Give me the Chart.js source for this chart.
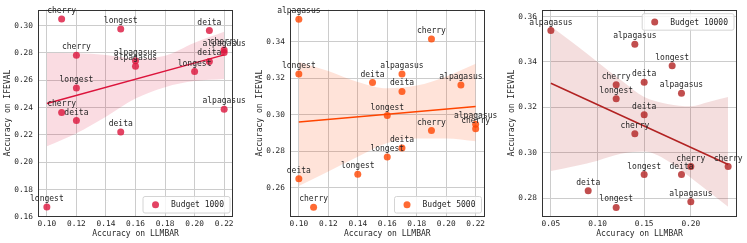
<!DOCTYPE html>
<html>
<head>
<meta charset="utf-8">
<script src="https://cdn.jsdelivr.net/npm/chart.js@4.4.0/dist/chart.umd.min.js"></script>
<style>
  html, body { margin: 0; padding: 0; background: #fff; }
  #wrap { position: relative; width: 747px; height: 243px; }
  #wrap canvas { position: absolute; left: 0; top: 0; }
</style>
</head>
<body>
<div id="wrap">
  <canvas id="c1" width="747" height="243"></canvas>
  <canvas id="c2" width="747" height="243"></canvas>
  <canvas id="c3" width="747" height="243"></canvas>
</div>
<script>
// Budget 1000
const names1 = ['cherry', 'longest', 'deita', 'cherry', 'alpagasus', 'alpagasus', 'deita', 'cherry',
  'alpagasus', 'longest', 'longest', 'cherry', 'deita', 'deita', 'alpagasus', 'longest'];
const llmbar1 = [0.11, 0.15, 0.21, 0.12, 0.16, 0.16, 0.21, 0.22, 0.22, 0.20, 0.12, 0.11, 0.12, 0.15, 0.22, 0.10];
const ifeval1 = [0.3048, 0.2976, 0.2964, 0.2783, 0.2743, 0.2702, 0.2738, 0.2821,
  0.2804, 0.2664, 0.2543, 0.2365, 0.2305, 0.2221, 0.2389, 0.1672];
const fitX1 = [0.10, 0.22];
const fitY1 = [0.2430, 0.2786];
const bandX1 = [0.10, 0.12, 0.14, 0.16, 0.18, 0.20, 0.22];
const bandLo1 = [0.2117, 0.2213, 0.2334, 0.2466, 0.2550, 0.2594, 0.2610];
const bandHi1 = [0.2800, 0.2798, 0.2786, 0.2760, 0.2780, 0.2875, 0.2955];

// Budget 5000
const names2 = ['alpagasus', 'cherry', 'longest', 'alpagasus', 'deita', 'deita', 'alpagasus', 'longest',
  'cherry', 'alpagasus', 'cherry', 'deita', 'longest', 'longest', 'deita', 'cherry'];
const llmbar2 = [0.10, 0.19, 0.10, 0.17, 0.15, 0.17, 0.21, 0.16, 0.19, 0.22, 0.22, 0.17, 0.16, 0.14, 0.10, 0.11];
const ifeval2 = [0.3524, 0.3416, 0.3223, 0.3223, 0.3177, 0.3128, 0.3164, 0.2996,
  0.2914, 0.2948, 0.2924, 0.2818, 0.2769, 0.2674, 0.2650, 0.2494];
const fitX2 = [0.10, 0.22];
const fitY2 = [0.2961, 0.3045];
const bandX2 = [0.10, 0.12, 0.14, 0.16, 0.18, 0.20, 0.22];
const bandLo2 = [0.2610, 0.2690, 0.2770, 0.2845, 0.2870, 0.2870, 0.2855];
const bandHi2 = [0.3290, 0.3240, 0.3180, 0.3145, 0.3160, 0.3210, 0.3280];

// Budget 10000
const names3 = ['alpagasus', 'alpagasus', 'longest', 'cherry', 'deita', 'alpagasus', 'longest', 'deita',
  'cherry', 'cherry', 'cherry', 'longest', 'deita', 'deita', 'alpagasus', 'longest'];
const llmbar3 = [0.05, 0.14, 0.18, 0.12, 0.15, 0.19, 0.12, 0.15, 0.14, 0.20, 0.24, 0.15, 0.19, 0.09, 0.20, 0.12];
const ifeval3 = [0.3538, 0.3478, 0.3383, 0.3299, 0.3310, 0.3262, 0.3238, 0.3167,
  0.3083, 0.2939, 0.2939, 0.2904, 0.2904, 0.2832, 0.2784, 0.2759];
const fitX3 = [0.05, 0.24];
const fitY3 = [0.3306, 0.2948];
const bandX3 = [0.05, 0.075, 0.10, 0.125, 0.15, 0.175, 0.20, 0.22, 0.24];
const bandLo3 = [0.2919, 0.2940, 0.2965, 0.2995, 0.3005, 0.2965, 0.2890, 0.2826, 0.2762];
const bandHi3 = [0.3557, 0.3480, 0.3400, 0.3320, 0.3245, 0.3215, 0.3205, 0.3225, 0.3245];

const xTicksA = [0.10, 0.12, 0.14, 0.16, 0.18, 0.20, 0.22];
const xTicksB = [0.05, 0.10, 0.15, 0.20];
const yTicks1 = [0.16, 0.18, 0.20, 0.22, 0.24, 0.26, 0.28, 0.30];
const yTicks2 = [0.26, 0.28, 0.30, 0.32, 0.34];
const yTicks3 = [0.28, 0.30, 0.32, 0.34, 0.36];

const MONO = '"DejaVu Sans Mono", monospace';
const TEXT = '#262626';

// frame, point names and legend box
const decor = {
  id: 'decor',
  afterDatasetsDraw(chart, args, o) {
    const {ctx, chartArea: a} = chart;
    ctx.save();
    ctx.strokeStyle = '#333333';
    ctx.lineWidth = 1;
    const l = Math.round(a.left) + 0.5, t = Math.round(a.top) + 0.5;
    const r = Math.round(a.right) - 0.5, b = Math.round(a.bottom) - 0.5;
    ctx.strokeRect(l, t, r - l, b - t);

    const meta = chart.getDatasetMeta(0);
    ctx.font = '8px ' + MONO;
    ctx.fillStyle = TEXT;
    ctx.textAlign = 'center';
    ctx.textBaseline = 'alphabetic';
    meta.data.forEach((el, i) => ctx.fillText(o.names[i], el.x, el.y - 6));

    // legend
    ctx.font = '8px ' + MONO;
    const tw = ctx.measureText(o.legend).width;
    const w = 28 + tw + 6, h = 16.5;
    const x = a.right - 3 - w;
    const y = o.corner === 'br' ? a.bottom - 3.5 - h : a.top + 4;
    ctx.beginPath();
    ctx.roundRect(x, y, w, h, 2);
    ctx.fillStyle = 'rgba(255,255,255,0.8)';
    ctx.fill();
    ctx.strokeStyle = '#d4d4d4';
    ctx.stroke();
    ctx.beginPath();
    ctx.arc(x + 12.5, y + h / 2, 3.5, 0, Math.PI * 2);
    ctx.fillStyle = o.point;
    ctx.fill();
    ctx.fillStyle = TEXT;
    ctx.textAlign = 'left';
    ctx.textBaseline = 'middle';
    ctx.fillText(o.legend, x + 28, y + h / 2 + 0.5);
    ctx.restore();
  }
};

function xy(xs, ys) {
  return xs.map((x, i) => ({x: x, y: ys[i]}));
}

function makePanel(id, p) {
  new Chart(document.getElementById(id), {
    type: 'scatter',
    data: {
      datasets: [
        {
          data: xy(p.x, p.y),
          backgroundColor: p.point,
          borderWidth: 0,
          pointRadius: 3.5,
          pointHoverRadius: 3.5,
          order: 0
        },
        {
          data: xy(p.fitX, p.fitY),
          showLine: true,
          borderColor: p.color,
          borderWidth: 1.5,
          pointRadius: 0,
          order: 1
        },
        {
          data: xy(p.bandX, p.bandLo),
          showLine: true,
          borderColor: 'rgba(0,0,0,0)',
          pointRadius: 0,
          fill: false,
          tension: 0.4,
          cubicInterpolationMode: 'monotone',
          order: 2
        },
        {
          data: xy(p.bandX, p.bandHi),
          showLine: true,
          borderColor: 'rgba(0,0,0,0)',
          backgroundColor: p.band,
          pointRadius: 0,
          fill: 2,
          tension: 0.4,
          cubicInterpolationMode: 'monotone',
          order: 2
        }
      ]
    },
    options: {
      responsive: false,
      animation: false,
      events: [],
      layout: {padding: {left: p.padL, right: p.padR, top: 6, bottom: 0}},
      plugins: {
        legend: {display: false},
        tooltip: {enabled: false},
        decor: {names: p.names, legend: p.legend, corner: p.corner, point: p.point}
      },
      scales: {
        x: {
          type: 'linear',
          min: p.xMin,
          max: p.xMax,
          afterBuildTicks: s => { s.ticks = p.xTicks.map(v => ({value: v})); },
          afterFit: s => { s.height = 26.5; },
          grid: {color: '#cccccc', lineWidth: 1, drawTicks: false},
          border: {display: false},
          ticks: {
            padding: 2.5, color: TEXT, autoSkip: false, maxRotation: 0,
            font: {family: MONO, size: 7.8},
            callback: v => v.toFixed(2)
          },
          title: {
            display: true, text: 'Accuracy on LLMBAR', color: TEXT,
            font: {family: MONO, size: 8}, padding: {top: 0, bottom: 4}
          }
        },
        y: {
          type: 'linear',
          min: p.yMin,
          max: p.yMax,
          afterBuildTicks: s => { s.ticks = p.yTicks.map(v => ({value: v})); },
          afterFit: s => { s.width = 38; },
          grid: {color: '#cccccc', lineWidth: 1, drawTicks: false},
          border: {display: false},
          ticks: {
            padding: 5, color: TEXT, autoSkip: false,
            font: {family: MONO, size: 7.8},
            callback: v => v.toFixed(2)
          },
          title: {
            display: true, text: 'Accuracy on IFEVAL', color: TEXT,
            font: {family: MONO, size: 8}, padding: {top: 3.5, bottom: 0}
          }
        }
      }
    },
    plugins: [decor]
  });
}

makePanel('c1', {
  names: names1, x: llmbar1, y: ifeval1, fitX: fitX1, fitY: fitY1,
  bandX: bandX1, bandLo: bandLo1, bandHi: bandHi1,
  xTicks: xTicksA, yTicks: yTicks1, xMin: 0.094, xMax: 0.226, yMin: 0.1603, yMax: 0.3117,
  color: '#DC143C', point: 'rgba(220,20,60,0.8)', band: 'rgba(220,20,60,0.15)',
  legend: 'Budget 1000', corner: 'br', padL: 0, padR: 514
});

makePanel('c2', {
  names: names2, x: llmbar2, y: ifeval2, fitX: fitX2, fitY: fitY2,
  bandX: bandX2, bandLo: bandLo2, bandHi: bandHi2,
  xTicks: xTicksA, yTicks: yTicks2, xMin: 0.094, xMax: 0.226, yMin: 0.2443, yMax: 0.3576,
  color: '#FF4500', point: 'rgba(255,69,0,0.8)', band: 'rgba(255,69,0,0.15)',
  legend: 'Budget 5000', corner: 'br', padL: 252, padR: 262.5
});

makePanel('c3', {
  names: names3, x: llmbar3, y: ifeval3, fitX: fitX3, fitY: fitY3,
  bandX: bandX3, bandLo: bandLo3, bandHi: bandHi3,
  xTicks: xTicksB, yTicks: yTicks3, xMin: 0.0405, xMax: 0.2495, yMin: 0.2719, yMax: 0.3630,
  color: '#B22222', point: 'rgba(178,34,34,0.8)', band: 'rgba(178,34,34,0.15)',
  legend: 'Budget 10000', corner: 'tr', padL: 504, padR: 10
});
</script>
</body>
</html>
